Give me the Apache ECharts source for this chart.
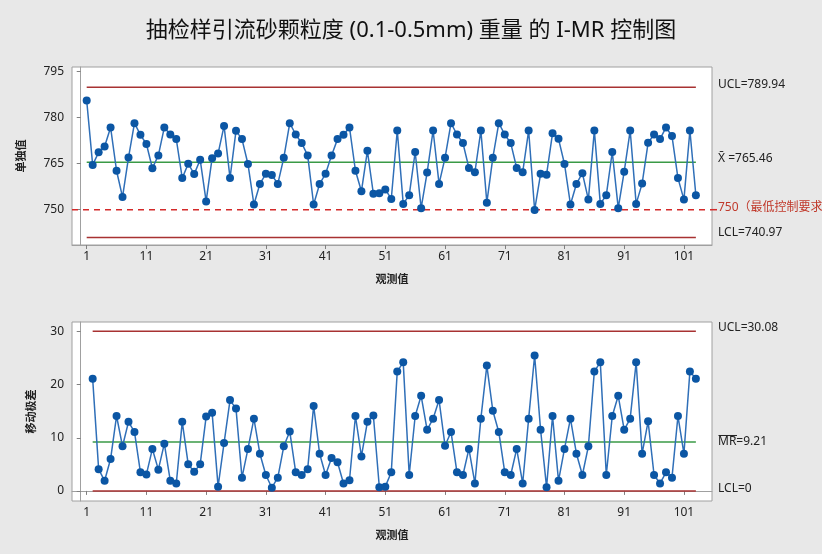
<!DOCTYPE html>
<html>
<head>
<meta charset="utf-8">
<script src="https://cdn.jsdelivr.net/npm/echarts@6/dist/echarts.min.js"></script>
<style>
  html, body { margin: 0; padding: 0; background: #e8e8e8; }
  #chartmain { width: 822px; height: 554px; }
</style>
</head>
<body>
<div id="chartmain"></div>
<script>
// individual values, observation 1..103
var indValues = [
  785.6, 764.6, 768.7, 770.6, 776.8, 762.7, 754.1, 767.0, 778.2, 774.4,
  771.4, 763.5, 767.7, 776.8, 774.5, 773.0, 760.3, 765.0, 761.6, 766.3,
  752.7, 766.8, 768.3, 777.3, 760.3, 775.7, 773.0, 764.9, 751.7, 758.4,
  761.7, 761.3, 758.4, 766.9, 778.2, 774.5, 771.7, 767.7, 751.7, 758.4,
  761.7, 767.7, 773.0, 774.4, 776.8, 762.7, 756.0, 769.2, 755.2, 755.4,
  756.6, 753.5, 775.8, 751.9, 754.7, 768.8, 750.5, 762.1, 775.8, 758.4,
  766.9, 778.2, 774.5, 771.7, 763.6, 762.2, 775.8, 752.3, 766.9, 778.2,
  774.5, 771.7, 763.6, 762.2, 775.8, 749.9, 761.7, 761.4, 774.9, 773.1,
  764.9, 751.7, 758.4, 761.9, 753.3, 775.8, 751.9, 754.7, 768.8, 750.5,
  762.4, 775.8, 751.9, 758.5, 771.8, 774.5, 773.0, 776.8, 774.0, 760.3,
  753.3, 775.8, 754.7
];
// moving ranges, observation 2..103
var mrValues = [
  21.1, 4.1, 1.9, 6.0, 14.1, 8.4, 13.0, 11.1, 3.5,
  3.1, 7.9, 4.0, 8.9, 1.9, 1.4, 13.0, 5.0, 3.6, 5.0,
  14.0, 14.7, 0.8, 9.0, 17.1, 15.5, 2.5, 7.9, 13.6, 7.0,
  3.0, 0.6, 2.5, 8.4, 11.2, 3.5, 3.0, 4.1, 16.0, 7.0,
  3.0, 6.2, 5.4, 1.4, 2.0, 14.1, 6.5, 13.0, 14.2, 0.7,
  0.8, 3.5, 22.5, 24.2, 3.0, 14.1, 17.9, 11.5, 13.6, 17.1,
  8.5, 11.1, 3.5, 3.0, 7.9, 1.4, 13.6, 23.6, 15.1, 11.1,
  3.5, 3.0, 7.9, 1.4, 13.6, 25.5, 11.5, 0.7, 14.1, 1.9,
  7.9, 13.6, 7.0, 3.0, 8.4, 22.5, 24.2, 3.0, 14.1, 17.9,
  11.5, 13.6, 24.2, 7.0, 13.1, 3.0, 1.4, 3.5, 2.5, 14.1,
  7.0, 22.5, 21.1
];
var xTicks = [1, 11, 21, 31, 41, 51, 61, 71, 81, 91, 101];
var indTicks = [750, 765, 780, 795];
var mrTicks = [0, 10, 20, 30];
var indLimits = { ucl: 789.94, center: 765.46, lcl: 740.97, spec: 750 };
var mrLimits = { ucl: 30.08, center: 9.21, lcl: 0 };

var titleText = '抽检样引流砂颗粒度 (0.1-0.5mm) 重量 的 I-MR 控制图';
var font = '"Noto Sans", "Noto Sans CJK SC", sans-serif';

var n = indValues.length;
var indData = indValues.map(function (v, i) { return [i + 1, v]; });
var mrData = mrValues.map(function (v, i) { return [i + 2, v]; });

function hline(y, x0, x1) {
  return [[x0, y], [x1, y]];
}

function xAxisFor(gridIndex) {
  return {
    type: 'value', gridIndex: gridIndex, min: -1.46, max: 105.7,
    name: '观测值', nameLocation: 'middle', nameGap: 29,
    nameTextStyle: { fontSize: 11, color: '#222', fontFamily: font, fontWeight: 'bold' },
    axisLine: { show: true, lineStyle: { color: '#a0a0a0' } },
    axisTick: { show: true, length: 4, customValues: xTicks, lineStyle: { color: '#808080' } },
    axisLabel: { customValues: xTicks, fontSize: 12, color: '#222', fontFamily: font, margin: 6 },
    splitLine: { show: false }
  };
}

function yAxisFor(gridIndex, min, max, ticks, name, gap) {
  return {
    type: 'value', gridIndex: gridIndex, min: min, max: max,
    name: name, nameLocation: 'middle', nameGap: gap,
    nameTextStyle: { fontSize: 11, color: '#222', fontFamily: font, fontWeight: 'bold' },
    axisLine: { show: true, lineStyle: { color: '#a0a0a0' } },
    axisTick: { show: true, length: 4, customValues: ticks, lineStyle: { color: '#808080' } },
    axisLabel: { customValues: ticks, fontSize: 12, color: '#222', fontFamily: font, margin: 8 },
    splitLine: { show: false }
  };
}

function limitSeries(idx, data, color, type) {
  return {
    type: 'line', xAxisIndex: idx, yAxisIndex: idx, data: data,
    symbol: 'none', silent: true, animation: false,
    lineStyle: { color: color, width: 1.5, type: type || 'solid' }
  };
}

function pointSeries(idx, data) {
  return {
    type: 'line', xAxisIndex: idx, yAxisIndex: idx, data: data,
    symbol: 'circle', symbolSize: 8, animation: false,
    itemStyle: { color: '#0b56a4' },
    lineStyle: { color: '#2f6fb8', width: 1.5 }
  };
}

var chart = echarts.init(document.getElementById('chartmain'), null, { renderer: 'canvas', width: 822, height: 554 });

var option = {
  backgroundColor: '#e8e8e8',
  animation: false,
  title: {
    text: titleText, left: 'center', top: 15,
    textStyle: { fontSize: 22, fontWeight: 'normal', color: '#111', fontFamily: font }
  },
  grid: [
    { left: 72, top: 67, right: 110, height: 178, show: true, backgroundColor: '#fff', borderColor: '#a0a0a0', borderWidth: 1 },
    { left: 72, top: 322, right: 110, height: 179, show: true, backgroundColor: '#fff', borderColor: '#a0a0a0', borderWidth: 1 }
  ],
  xAxis: [xAxisFor(0), xAxisFor(1)],
  yAxis: [
    yAxisFor(0, 738.5, 796.5, indTicks, '单独值', 45),
    yAxisFor(1, -1.9, 31.8, mrTicks, '移动极差', 35)
  ],
  series: [
    limitSeries(0, hline(indLimits.ucl, 1, n), '#a83232'),
    limitSeries(0, hline(indLimits.lcl, 1, n), '#a83232'),
    limitSeries(0, hline(indLimits.center, 1, n), '#3a9a46'),
    limitSeries(0, hline(indLimits.spec, -1.46, 105.7), '#d42a2a', [6, 5]),
    pointSeries(0, indData),
    limitSeries(1, hline(mrLimits.ucl, 2, n), '#a83232'),
    limitSeries(1, hline(mrLimits.lcl, 2, n), '#a83232'),
    limitSeries(1, hline(mrLimits.center, 2, n), '#3a9a46'),
    pointSeries(1, mrData)
  ]
};
chart.setOption(option);

// right-hand labels, placed from the data values (dy = pixel nudge)
var labelX = 718;
function labelAt(idx, value, text, dy) {
  var y = chart.convertToPixel({ yAxisIndex: idx }, value) + (dy || 0);
  return {
    type: 'text', left: labelX, top: y - 8,
    style: { text: text, fontSize: 12, fill: '#222', fontFamily: font }
  };
}
var specY = chart.convertToPixel({ yAxisIndex: 0 }, indLimits.spec);
var mrY = chart.convertToPixel({ yAxisIndex: 1 }, mrLimits.center) + 2;
chart.setOption({
  graphic: [
    labelAt(0, indLimits.ucl, 'UCL=' + indLimits.ucl, -1),
    labelAt(0, indLimits.center, 'X\u0304 =' + indLimits.center, -2),
    { type: 'line', shape: { x1: 712, y1: specY, x2: 717, y2: specY }, style: { stroke: '#d42a2a', lineWidth: 1.5 } },
    { type: 'text', left: labelX, top: specY - 8, style: { text: indLimits.spec + '（最低控制要求）', fontSize: 12, fill: '#c0392b', fontFamily: font } },
    labelAt(0, indLimits.lcl, 'LCL=' + indLimits.lcl, -3),
    labelAt(1, mrLimits.ucl, 'UCL=' + mrLimits.ucl, -2),
    { type: 'text', left: labelX, top: mrY - 8, style: { text: 'MR=' + mrLimits.center, fontSize: 12, fill: '#222', fontFamily: font } },
    { type: 'line', shape: { x1: labelX + 0.5, y1: mrY - 8.5, x2: labelX + 19, y2: mrY - 8.5 }, style: { stroke: '#222', lineWidth: 1 } },
    labelAt(1, mrLimits.lcl, 'LCL=' + mrLimits.lcl, 0)
  ]
});
</script>
</body>
</html>
